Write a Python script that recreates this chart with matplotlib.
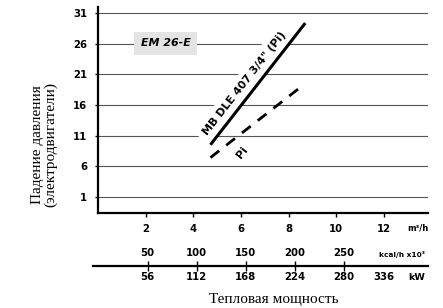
import matplotlib
matplotlib.use("Agg")
import matplotlib.pyplot as plt
from matplotlib.ticker import FixedLocator, FixedFormatter

# ---- data ----
y_ticks = [1, 6, 11, 16, 21, 26, 31]
x_ticks = [2, 4, 6, 8, 10, 12]
kcal_ticks = [50, 100, 150, 200, 250]
kw_labels = ["56", "112", "168", "224", "280"]
kw_last = "336"

mb_x = [4.72, 8.70]
mb_y = [9.5, 29.4]
pi_x = [4.72, 8.66]
pi_y = [7.4, 19.4]

W, H = 443, 308
fig = plt.figure(figsize=(W / 100, H / 100), dpi=100)

def fx(px):
    return px / W

def fy(py):
    return 1 - py / H

bold = dict(family="DejaVu Sans", fontweight="bold")

# main axes
ax_l, ax_r, ax_t, ax_b = 97.7, 427.7, 7.0, 212.5
ax = fig.add_axes([fx(ax_l), fy(ax_b), fx(ax_r - ax_l), (ax_b - ax_t) / H])
ax.set_xlim(-0.013, 13.84)
ax.set_ylim(-1.58, 32.03)
for s in ["top", "right"]:
    ax.spines[s].set_visible(False)
ax.spines["left"].set_linewidth(1.6)
ax.spines["bottom"].set_linewidth(1.6)
ax.set_yticks(y_ticks)
ax.set_yticklabels([str(v) for v in y_ticks], fontsize=7.3, **bold)
ax.set_xticks(x_ticks)
ax.set_xticklabels([str(v) for v in x_ticks], fontsize=7.3, **bold)
ax.tick_params(axis="y", length=2.2, width=1, pad=5.5)
ax.tick_params(axis="x", length=3, width=1, pad=5.5)
ax.grid(axis="y", color="#555555", linewidth=0.8, zorder=1)
ax.set_axisbelow(True)

ax.plot(mb_x, mb_y, color="black", linewidth=2.2, solid_capstyle="butt", zorder=5)
ax.plot(pi_x, pi_y, color="black", linewidth=2.0, dashes=(4, 3.2), zorder=5)

ax.text(6.15, 19.47, 'MB DLE 407 3/4" (Pi)', rotation=52, rotation_mode="anchor",
        ha="center", va="center", fontsize=7.9, zorder=4,
        bbox=dict(facecolor="white", edgecolor="none", pad=4.0), **bold)
ax.text(6.04, 8.25, "Pi", rotation=52, rotation_mode="anchor",
        ha="center", va="center", fontsize=7.9, zorder=4,
        bbox=dict(facecolor="white", edgecolor="none", pad=3.0), **bold)
ax.text(2.85, 26.1, "EM 26-E", ha="center", va="center", fontsize=7.9,
        fontstyle="italic", zorder=4,
        bbox=dict(facecolor="#e4e4e4", edgecolor="none", boxstyle="square,pad=0.6"),
        **bold)

# unit for m3/h axis
fig.text(fx(418), fy(228), "m³/h", ha="center", va="center", fontsize=6, **bold)

# secondary scale (kcal / kW)
line_y = 265.5
s_l, s_r = 93.0, 428.0
ax2 = fig.add_axes([fx(s_l), fy(line_y), fx(s_r - s_l), 1e-4])
k0 = (s_l - 98.6) / 0.9815
k1 = (s_r - 98.6) / 0.9815
ax2.set_xlim(k0, k1)
ax2.set_ylim(0, 1)
for s in ["top", "right", "left"]:
    ax2.spines[s].set_visible(False)
ax2.spines["bottom"].set_linewidth(1.6)
ax2.set_yticks([])
ax2.patch.set_visible(False)
ax2.xaxis.set_major_locator(FixedLocator(kcal_ticks))
ax2.xaxis.set_major_formatter(FixedFormatter(kw_labels))
ax2.tick_params(axis="x", direction="inout", length=7, width=1, pad=1.2,
                labelsize=7.3)
for lab in ax2.get_xticklabels():
    lab.set_fontweight("bold")

ax3 = fig.add_axes([fx(s_l), fy(line_y), fx(s_r - s_l), 1e-4])
ax3.set_xlim(k0, k1)
for s in ax3.spines.values():
    s.set_visible(False)
ax3.set_yticks([])
ax3.patch.set_visible(False)
ax3.xaxis.set_major_locator(FixedLocator(kcal_ticks))
ax3.xaxis.set_major_formatter(FixedFormatter([str(v) for v in kcal_ticks]))
ax3.tick_params(axis="x", top=True, bottom=False, labeltop=True, labelbottom=False,
                length=0, pad=5.5, labelsize=7.3)
for lab in ax3.get_xticklabels():
    lab.set_fontweight("bold")

fig.text(fx(402), fy(254), "kcal/h x10³", ha="center", va="center", fontsize=5.3, **bold)
fig.text(fx(383.5), fy(277), kw_last, ha="center", va="center", fontsize=7.3, **bold)
fig.text(fx(416.7), fy(277), "kW", ha="center", va="center", fontsize=6.8, **bold)

# axis titles
fig.text(fx(44), fy(144.5), "Падение давления\n(электродвигатели)", rotation=90,
         ha="center", va="center", multialignment="center", fontsize=11,
         family="Liberation Serif", linespacing=1.05)
fig.text(fx(273.5), fy(303), "Тепловая мощность", ha="center", va="baseline",
         fontsize=11, family="Liberation Serif")

fig.savefig("out.png", dpi=100)
